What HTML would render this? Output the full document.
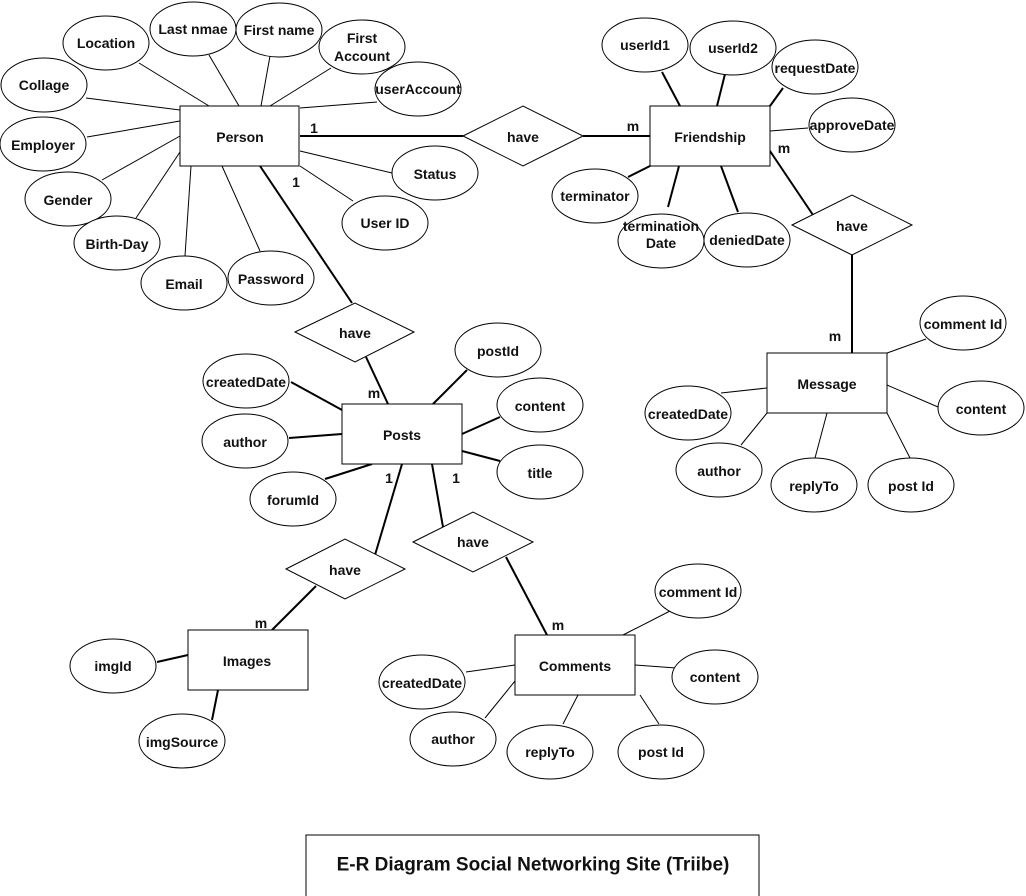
<!DOCTYPE html>
<html><head><meta charset="utf-8"><style>
html,body{margin:0;padding:0;background:#fff;}
svg{display:block;}
text{font-family:"Liberation Sans",Arial,sans-serif;font-size:14px;font-weight:bold;fill:#111;text-anchor:middle;dominant-baseline:central;}
.t{stroke:#000;stroke-width:1;fill:none;}
.k{stroke:#000;stroke-width:2;fill:none;}
.s{stroke:#000;stroke-width:1;fill:#fff;}
</style></head><body>
<svg width="1026" height="896" viewBox="0 0 1026 896" xmlns="http://www.w3.org/2000/svg">
<!-- connectors -->
<g class="t">
<line x1="139" y1="63" x2="209" y2="106"/>
<line x1="209" y1="55" x2="239" y2="106"/>
<line x1="270" y1="56" x2="261" y2="106"/>
<line x1="331" y1="68" x2="270" y2="106"/>
<line x1="377" y1="102" x2="300" y2="108"/>
<line x1="86" y1="98" x2="180" y2="110"/>
<line x1="87" y1="137" x2="180" y2="121"/>
<line x1="102" y1="180" x2="180" y2="136"/>
<line x1="136" y1="218" x2="180" y2="152"/>
<line x1="185" y1="256" x2="191" y2="166"/>
<line x1="260" y1="251" x2="222" y2="166"/>
<line x1="392" y1="173" x2="300" y2="151"/>
<line x1="353" y1="201" x2="300" y2="166"/>
<line x1="770" y1="131" x2="808" y2="128"/>
<line x1="926" y1="339" x2="887" y2="353"/>
<line x1="938" y1="407" x2="887" y2="385"/>
<line x1="721" y1="393" x2="767" y2="388"/>
<line x1="741" y1="445" x2="767" y2="413"/>
<line x1="815" y1="458" x2="827" y2="413"/>
<line x1="910" y1="458" x2="887" y2="413"/>
<line x1="672" y1="610" x2="623" y2="635"/>
<line x1="676" y1="668" x2="635" y2="665"/>
<line x1="466" y1="672" x2="515" y2="665"/>
<line x1="485" y1="718" x2="515" y2="681"/>
<line x1="563" y1="724" x2="578" y2="695"/>
<line x1="659" y1="724" x2="640" y2="695"/>
</g>
<g class="k">
<line x1="300" y1="136" x2="463" y2="136"/>
<line x1="583" y1="136" x2="650" y2="136"/>
<line x1="662" y1="72" x2="680" y2="106"/>
<line x1="725" y1="74" x2="717" y2="106"/>
<line x1="783" y1="88" x2="770" y2="106"/>
<line x1="628" y1="177" x2="650" y2="166"/>
<line x1="668" y1="207" x2="679" y2="166"/>
<line x1="738" y1="212" x2="721" y2="166"/>
<line x1="770" y1="151" x2="813" y2="215"/>
<line x1="852" y1="255" x2="852" y2="353"/>
<line x1="260" y1="166" x2="352" y2="303"/>
<line x1="366" y1="357" x2="388" y2="404"/>
<line x1="467" y1="370" x2="433" y2="404"/>
<line x1="500" y1="417" x2="462" y2="434"/>
<line x1="500" y1="461" x2="462" y2="451"/>
<line x1="291" y1="382" x2="342" y2="410"/>
<line x1="289" y1="438" x2="342" y2="434"/>
<line x1="325" y1="479" x2="372" y2="464"/>
<line x1="402" y1="464" x2="375" y2="555"/>
<line x1="432" y1="464" x2="443" y2="527"/>
<line x1="316" y1="586" x2="272" y2="630"/>
<line x1="157" y1="662" x2="188" y2="655"/>
<line x1="212" y1="720" x2="218" y2="690"/>
<line x1="506" y1="557" x2="547" y2="635"/>
</g>
<!-- entities -->
<g class="s">
<rect x="180" y="106" width="119" height="60"/>
<rect x="650" y="106" width="120" height="60"/>
<rect x="767" y="353" width="120" height="60"/>
<rect x="342" y="404" width="120" height="60"/>
<rect x="188" y="630" width="120" height="60"/>
<rect x="515" y="635" width="120" height="60"/>
<polygon points="463,136 523,106 583,136 523,166"/>
<polygon points="792,225 852,195 912,225 852,255"/>
<polygon points="295,332 355,303 414,332 355,362"/>
<polygon points="286,569 345,539 405,569 345,599"/>
<polygon points="413,542 473,512 533,542 473,572"/>
</g>
<!-- attributes -->
<g class="s">
<ellipse cx="106" cy="43" rx="43" ry="27"/>
<ellipse cx="193" cy="29" rx="43" ry="27"/>
<ellipse cx="279" cy="30" rx="43" ry="27"/>
<ellipse cx="362" cy="47" rx="43" ry="27"/>
<ellipse cx="418" cy="89" rx="43" ry="27"/>
<ellipse cx="44" cy="85" rx="43" ry="27"/>
<ellipse cx="43" cy="144" rx="43" ry="27"/>
<ellipse cx="68" cy="199" rx="43" ry="27"/>
<ellipse cx="117" cy="243" rx="43" ry="27"/>
<ellipse cx="184" cy="283" rx="43" ry="27"/>
<ellipse cx="271" cy="278" rx="43" ry="27"/>
<ellipse cx="435" cy="173" rx="43" ry="27"/>
<ellipse cx="385" cy="223" rx="43" ry="27"/>
<ellipse cx="645" cy="45" rx="43" ry="27"/>
<ellipse cx="733" cy="48" rx="43" ry="27"/>
<ellipse cx="815" cy="67" rx="43" ry="27"/>
<ellipse cx="852" cy="125" rx="43" ry="27"/>
<ellipse cx="595" cy="196" rx="43" ry="27"/>
<ellipse cx="661" cy="241" rx="43" ry="27"/>
<ellipse cx="747" cy="240" rx="43" ry="27"/>
<ellipse cx="963" cy="323" rx="43" ry="27"/>
<ellipse cx="981" cy="408" rx="43" ry="27"/>
<ellipse cx="688" cy="413" rx="43" ry="27"/>
<ellipse cx="719" cy="470" rx="43" ry="27"/>
<ellipse cx="814" cy="485" rx="43" ry="27"/>
<ellipse cx="911" cy="485" rx="43" ry="27"/>
<ellipse cx="498" cy="350" rx="43" ry="27"/>
<ellipse cx="540" cy="405" rx="43" ry="27"/>
<ellipse cx="540" cy="472" rx="43" ry="27"/>
<ellipse cx="246" cy="381" rx="43" ry="27"/>
<ellipse cx="245" cy="441" rx="43" ry="27"/>
<ellipse cx="293" cy="499" rx="43" ry="27"/>
<ellipse cx="113" cy="666" rx="43" ry="27"/>
<ellipse cx="182" cy="741" rx="43" ry="27"/>
<ellipse cx="698" cy="591" rx="43" ry="27"/>
<ellipse cx="715" cy="677" rx="43" ry="27"/>
<ellipse cx="422" cy="682" rx="43" ry="27"/>
<ellipse cx="453" cy="739" rx="43" ry="27"/>
<ellipse cx="550" cy="752" rx="43" ry="27"/>
<ellipse cx="661" cy="752" rx="43" ry="27"/>
</g>
<!-- labels -->
<text x="240" y="137">Person</text>
<text x="710" y="137">Friendship</text>
<text x="827" y="384">Message</text>
<text x="402" y="435">Posts</text>
<text x="247" y="661">Images</text>
<text x="575" y="666">Comments</text>
<text x="523" y="137">have</text>
<text x="852" y="226">have</text>
<text x="355" y="333">have</text>
<text x="345" y="570">have</text>
<text x="473" y="542">have</text>
<text x="106" y="43">Location</text>
<text x="193" y="29">Last nmae</text>
<text x="279" y="30">First name</text>
<text x="362" y="38">First</text>
<text x="362" y="56">Account</text>
<text x="418" y="89">userAccount</text>
<text x="44" y="85">Collage</text>
<text x="43" y="145">Employer</text>
<text x="68" y="200">Gender</text>
<text x="117" y="244">Birth-Day</text>
<text x="184" y="284">Email</text>
<text x="271" y="279">Password</text>
<text x="435" y="174">Status</text>
<text x="385" y="223">User ID</text>
<text x="645" y="45">userId1</text>
<text x="733" y="48">userId2</text>
<text x="815" y="68">requestDate</text>
<text x="852" y="125">approveDate</text>
<text x="595" y="196">terminator</text>
<text x="661" y="226">termination</text>
<text x="661" y="243">Date</text>
<text x="747" y="240">deniedDate</text>
<text x="963" y="324">comment Id</text>
<text x="981" y="409">content</text>
<text x="688" y="414">createdDate</text>
<text x="719" y="471">author</text>
<text x="814" y="486">replyTo</text>
<text x="911" y="486">post Id</text>
<text x="498" y="351">postId</text>
<text x="540" y="406">content</text>
<text x="540" y="473">title</text>
<text x="246" y="382">createdDate</text>
<text x="245" y="442">author</text>
<text x="293" y="500">forumId</text>
<text x="113" y="666">imgId</text>
<text x="182" y="742">imgSource</text>
<text x="698" y="592">comment Id</text>
<text x="715" y="677">content</text>
<text x="422" y="683">createdDate</text>
<text x="453" y="739">author</text>
<text x="550" y="752">replyTo</text>
<text x="661" y="752">post Id</text>
<!-- cardinalities -->
<text x="314" y="128">1</text>
<text x="296" y="182">1</text>
<text x="633" y="126">m</text>
<text x="784" y="148">m</text>
<text x="835" y="336">m</text>
<text x="374" y="393">m</text>
<text x="389" y="478">1</text>
<text x="456" y="478">1</text>
<text x="261" y="623">m</text>
<text x="558" y="625">m</text>
<!-- caption -->
<rect x="306" y="835" width="453" height="64" fill="#fff" stroke="#000" stroke-width="1"/>
<text x="533" y="865" style="font-size:19px">E-R Diagram Social Networking Site (Triibe)</text>
</svg>
</body></html>
